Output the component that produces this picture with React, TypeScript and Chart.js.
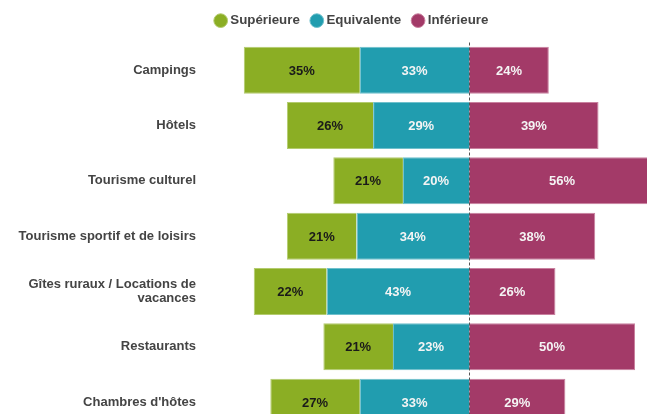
import React, { useEffect, useRef } from "react";
import { Chart, registerables } from "chart.js";

Chart.register(...registerables);

const categories: (string | string[])[] = [
  "Campings",
  "Hôtels",
  "Tourisme culturel",
  "Tourisme sportif et de loisirs",
  ["Gîtes ruraux / Locations de", "vacances"],
  "Restaurants",
  "Chambres d'hôtes",
];
const superieure = [35, 26, 21, 21, 22, 21, 27];
const equivalente = [33, 29, 20, 34, 43, 23, 33];
const inferieure = [24, 39, 56, 38, 26, 50, 29];

const seriesNames = ["Supérieure", "Equivalente", "Inférieure"];
const seriesColors = ["#8bae24", "#219daf", "#a33a68"];
const seriesBorders = ["#b3cb6e", "#6fc0cc", "#c9819f"];
const labelColors = ["#1a1a1a", "#f4f4f4", "#f4f4f4"];

const FONT = "'Liberation Sans', Arial, sans-serif";

const legendSpacePlugin = {
  id: "legendSpace",
  afterInit(chart: any) {
    const legend = chart.legend;
    if (legend && !legend.__patched) {
      const fit = legend.fit;
      legend.fit = function () {
        fit.call(this);
        this.height += 5.2;
      };
      legend.__patched = true;
    }
  },
};

const zeroLinePlugin = {
  id: "zeroLine",
  afterDatasetsDraw(chart: any) {
    const { ctx, chartArea, scales } = chart;
    const x = Math.round(scales.x.getPixelForValue(0)) + 0.5;
    ctx.save();
    ctx.strokeStyle = "#555555";
    ctx.lineWidth = 1;
    ctx.setLineDash([3, 2]);
    ctx.beginPath();
    ctx.moveTo(x, chartArea.top);
    ctx.lineTo(x, chartArea.bottom);
    ctx.stroke();
    ctx.restore();
  },
};

const valueLabelPlugin = {
  id: "valueLabels",
  afterDatasetsDraw(chart: any) {
    const { ctx } = chart;
    ctx.save();
    ctx.font = `bold 13px ${FONT}`;
    ctx.textAlign = "center";
    ctx.textBaseline = "middle";
    chart.data.datasets.forEach((ds: any, di: number) => {
      const meta = chart.getDatasetMeta(di);
      meta.data.forEach((bar: any, i: number) => {
        const v = Math.abs(ds.data[i]);
        const cx = (bar.x + bar.base) / 2;
        ctx.fillStyle = labelColors[di];
        ctx.fillText(`${v}%`, cx, bar.y + 1);
      });
    });
    ctx.restore();
  },
};

export default function App() {
  const ref = useRef<HTMLCanvasElement | null>(null);
  useEffect(() => {
    document.documentElement.style.overflow = "hidden";
    if (!ref.current) return;
    const chart = new Chart(ref.current, {
      type: "bar",
      data: {
        labels: categories,
        datasets: [
          {
            label: seriesNames[0],
            data: superieure.map((v) => -v),
            backgroundColor: seriesColors[0],
            borderColor: seriesBorders[0],
            borderWidth: 1,
            order: 1,
          },
          {
            label: seriesNames[1],
            data: equivalente.map((v) => -v),
            backgroundColor: seriesColors[1],
            borderColor: seriesBorders[1],
            borderWidth: 1,
            order: 0,
          },
          {
            label: seriesNames[2],
            data: inferieure,
            backgroundColor: seriesColors[2],
            borderColor: seriesBorders[2],
            borderWidth: 1,
            order: 2,
          },
        ],
      },
      options: {
        indexAxis: "y",
        animation: false,
        responsive: false,
        maintainAspectRatio: false,
        datasets: { bar: { barPercentage: 0.85, categoryPercentage: 1 } },
        layout: { padding: { left: 0, right: 0, top: -8, bottom: 8.6 } },
        plugins: {
          tooltip: { enabled: false },
          legend: {
            position: "top",
            labels: {
              usePointStyle: true,
              pointStyle: "circle",
              boxWidth: 6,
              boxHeight: 9.7,
              padding: 14,
              color: "#444444",
              font: { family: FONT, size: 13.3, weight: "bold" },
              sort: (a: any, b: any) => a.datasetIndex - b.datasetIndex,
            },
          },
        },
        scales: {
          x: {
            stacked: true,
            min: -80,
            max: 69,
            display: false,
          },
          y: {
            stacked: true,
            border: { display: false },
            grid: { display: false, drawTicks: false },
            ticks: {
              padding: 8,
              color: "#444444",
              font: { family: FONT, size: 13, weight: "bold", lineHeight: 1.1 },
            },
            afterFit(scale: any) {
              scale.width = 196;
            },
          },
        },
      },
      plugins: [legendSpacePlugin, zeroLinePlugin, valueLabelPlugin],
    });
    return () => chart.destroy();
  }, []);
  return (
    <div style={{ position: "fixed", left: 8, top: 8, width: 690, height: 437 }}>
      <canvas ref={ref} width={690} height={437} style={{ width: 690, height: 437, display: "block" }} />
    </div>
  );
}
